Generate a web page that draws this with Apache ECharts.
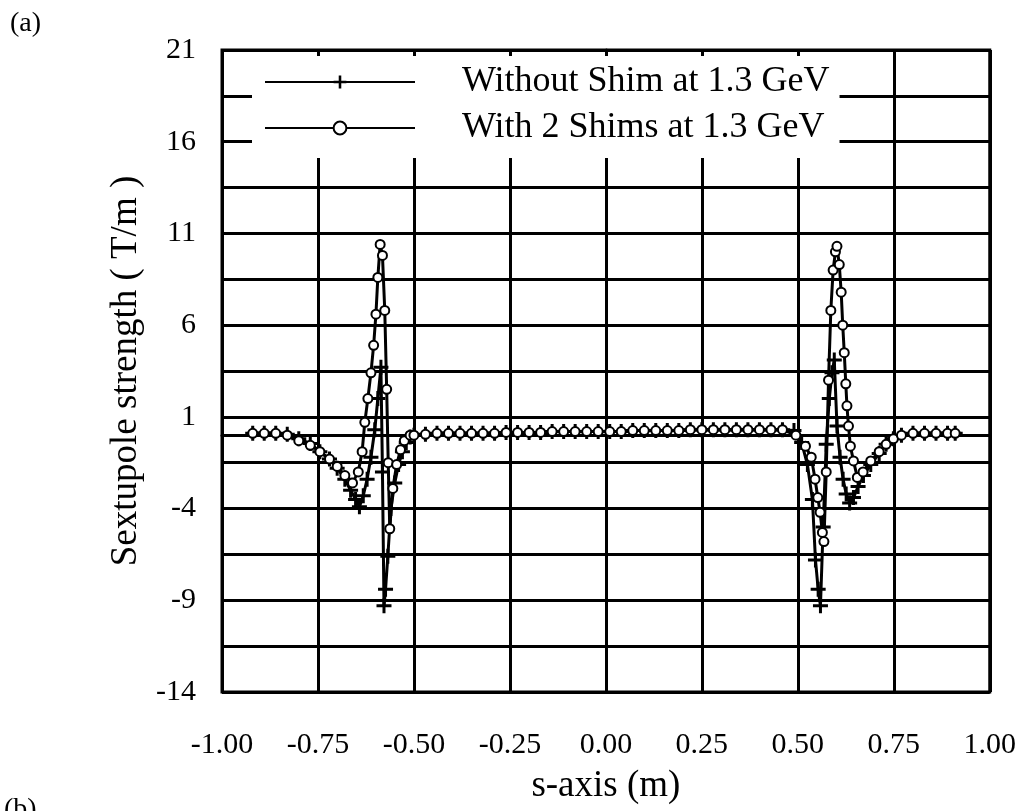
<!DOCTYPE html>
<html>
<head>
<meta charset="utf-8">
<title>Sextupole strength</title>
<script src="https://cdn.jsdelivr.net/npm/echarts@6/dist/echarts.min.js"></script>
<style>
  html, body { margin: 0; padding: 0; background: #fff; }
  #chart { width: 1019px; height: 811px; }
</style>
</head>
<body>
<div id="chart"></div>
<script>
// series 1: without shim (+ markers)
var plusX = [
  -0.92, -0.89, -0.86, -0.83, -0.80, -0.77, -0.745, -0.72, -0.70, -0.68,
  -0.665, -0.652, -0.642, -0.632, -0.622, -0.612, -0.602, -0.594, -0.586, -0.582,
  -0.578, -0.574, -0.568, -0.56, -0.55, -0.54, -0.53, -0.52, -0.51,
  -0.50, -0.47, -0.44, -0.41, -0.38, -0.35, -0.32, -0.29, -0.26, -0.23,
  -0.20, -0.17, -0.14, -0.11, -0.08, -0.05, -0.02, 0.01, 0.04, 0.07,
  0.10, 0.13, 0.16, 0.19, 0.22, 0.25, 0.28, 0.31, 0.34, 0.37,
  0.40, 0.43, 0.46,
  0.49, 0.51, 0.525, 0.538, 0.546, 0.553, 0.559, 0.566, 0.574, 0.582,
  0.589, 0.595, 0.602, 0.61, 0.618, 0.626, 0.635, 0.645, 0.657, 0.671,
  0.69, 0.712, 0.73, 0.749, 0.77, 0.80, 0.83, 0.86, 0.89, 0.91
]
var plusY = [
  0.1, 0.1, 0.1, 0.05, -0.2, -0.45, -0.9, -1.3, -1.8, -2.4,
  -3.0, -3.5, -3.9, -3.3, -2.4, -1.2, 0.3, 2.0, 3.7, -2.0,
  -9.3, -8.4, -6.6, -4.0, -2.6, -1.6, -0.9, -0.4, -0.1,
  0.0, 0.05, 0.1, 0.1, 0.1, 0.1, 0.1, 0.1, 0.15, 0.15,
  0.15, 0.15, 0.2, 0.2, 0.2, 0.2, 0.2, 0.2, 0.2, 0.25,
  0.25, 0.25, 0.25, 0.25, 0.3, 0.3, 0.3, 0.3, 0.3, 0.3,
  0.3, 0.3, 0.3,
  0.25, -0.4, -1.6, -3.5, -6.8, -8.4, -9.3, -5.0, -0.5, 2.0,
  3.4, 4.1, 0.5, -1.2, -2.4, -3.2, -3.7, -3.4, -2.8, -2.2,
  -1.6, -1.0, -0.5, -0.2, 0.0, 0.1, 0.1, 0.1, 0.1, 0.1
]

// series 2: with 2 shims (o markers)
var circX = [
  -0.92, -0.89, -0.86, -0.83, -0.80, -0.77, -0.745, -0.72, -0.70, -0.68,
  -0.66, -0.645, -0.635, -0.628, -0.62, -0.612, -0.605, -0.599, -0.594, -0.588,
  -0.582, -0.576, -0.571, -0.567, -0.563, -0.555, -0.545, -0.535, -0.525, -0.51,
  -0.50, -0.47, -0.44, -0.41, -0.38, -0.35, -0.32, -0.29, -0.26, -0.23,
  -0.20, -0.17, -0.14, -0.11, -0.08, -0.05, -0.02, 0.01, 0.04, 0.07,
  0.10, 0.13, 0.16, 0.19, 0.22, 0.25, 0.28, 0.31, 0.34, 0.37,
  0.40, 0.43, 0.46,
  0.495, 0.52, 0.535, 0.545, 0.552, 0.558, 0.564, 0.568, 0.574,
  0.58, 0.586, 0.592, 0.598, 0.602, 0.608, 0.613, 0.617, 0.621, 0.625,
  0.628, 0.632, 0.637, 0.645, 0.655, 0.67, 0.69, 0.712, 0.73, 0.749,
  0.77, 0.80, 0.83, 0.86, 0.89, 0.91
]
var circY = [
  0.1, 0.1, 0.1, 0.0, -0.3, -0.55, -0.9, -1.3, -1.7, -2.2,
  -2.6, -2.0, -0.9, 0.7, 2.0, 3.4, 4.9, 6.6, 8.6, 10.4,
  9.8, 6.8, 2.5, -1.5, -5.1, -2.9, -1.6, -0.8, -0.3, 0.0,
  0.0, 0.05, 0.1, 0.1, 0.1, 0.1, 0.1, 0.1, 0.15, 0.15,
  0.15, 0.15, 0.2, 0.2, 0.2, 0.2, 0.2, 0.2, 0.2, 0.25,
  0.25, 0.25, 0.25, 0.25, 0.3, 0.3, 0.3, 0.3, 0.3, 0.3,
  0.3, 0.3, 0.3,
  0.0, -0.6, -1.2, -2.4, -3.4, -4.2, -5.3, -5.8, -2.0,
  3.0, 6.8, 9.0, 10.0, 10.3, 9.3, 7.8, 6.0, 4.5, 2.8,
  1.6, 0.5, -0.6, -1.4, -2.3, -2.0, -1.4, -0.9, -0.5, -0.2,
  0.0, 0.1, 0.1, 0.1, 0.1, 0.1
]

var yTickLabels = [-14, -9, -4, 1, 6, 11, 16, 21]
var seriesNames = ['Without Shim at 1.3 GeV', 'With 2 Shims at 1.3 GeV']

var serif = '"Liberation Serif", "DejaVu Serif", serif'
var plusPath = 'path://M4,0 H6 V4 H10 V6 H6 V10 H4 V6 H0 V4 H4 Z'

function pairs (xs, ys) {
  return xs.map(function (x, i) { return [x, ys[i]] })
}

var chart = echarts.init(document.getElementById('chart'))
var option = {
  animation: false,
  backgroundColor: '#fff',
  graphic: [
    { type: 'text', left: 10, top: 10, style: { text: '(a)', font: '28px ' + serif, fill: '#000' } },
    { type: 'text', left: 4, top: 796, style: { text: '(b)', font: '28px ' + serif, fill: '#000' } }
  ],
  grid: {
    left: 222,
    right: 29,
    top: 50,
    bottom: 119,
    show: true,
    borderColor: '#000',
    borderWidth: 3,
    backgroundColor: '#fff'
  },
  legend: {
    data: seriesNames,
    orient: 'vertical',
    left: 252,
    top: 56,
    itemWidth: 150,
    itemHeight: 16,
    itemGap: 10,
    padding: [8, 10, 12, 12],
    backgroundColor: '#fff',
    textStyle: {
      fontFamily: serif,
      fontSize: 36,
      color: '#000',
      padding: [0, 0, 0, 42]
    }
  },
  xAxis: {
    type: 'value',
    min: -1,
    max: 1,
    interval: 0.25,
    name: 's-axis (m)',
    nameLocation: 'middle',
    nameGap: 76,
    nameTextStyle: { fontFamily: serif, fontSize: 37, color: '#000' },
    axisLine: { lineStyle: { color: '#000', width: 3 } },
    axisTick: { show: false },
    splitLine: { show: true, lineStyle: { color: '#000', width: 3 } },
    axisLabel: {
      fontFamily: serif,
      fontSize: 30,
      color: '#000',
      margin: 38,
      formatter: function (v) { return v.toFixed(2) }
    }
  },
  yAxis: {
    type: 'value',
    min: -14,
    max: 21,
    interval: 2.5,
    name: 'Sextupole strength ( T/m )',
    nameLocation: 'middle',
    nameGap: 76,
    nameTextStyle: { fontFamily: serif, fontSize: 37, color: '#000' },
    axisLine: { lineStyle: { color: '#000', width: 3 } },
    axisTick: { show: true, length: 10, lineStyle: { color: '#000', width: 3 } },
    splitLine: { show: true, lineStyle: { color: '#000', width: 3 } },
    axisLabel: {
      fontFamily: serif,
      fontSize: 30,
      color: '#000',
      margin: 26,
      formatter: function (v) {
        var r = Math.round(v * 10) / 10
        return yTickLabels.indexOf(r) >= 0 ? String(r) : ''
      }
    }
  },
  series: [
    {
      name: seriesNames[0],
      type: 'line',
      data: pairs(plusX, plusY),
      symbol: plusPath,
      symbolSize: 15,
      showAllSymbol: true,
      lineStyle: { color: '#000', width: 3 },
      itemStyle: { color: '#000' },
      z: 3
    },
    {
      name: seriesNames[1],
      type: 'line',
      data: pairs(circX, circY),
      symbol: 'circle',
      symbolSize: 9,
      showAllSymbol: true,
      lineStyle: { color: '#000', width: 3 },
      itemStyle: { color: '#fff', borderColor: '#000', borderWidth: 2 },
      z: 4
    }
  ]
}
chart.setOption(option)
</script>
</body>
</html>
